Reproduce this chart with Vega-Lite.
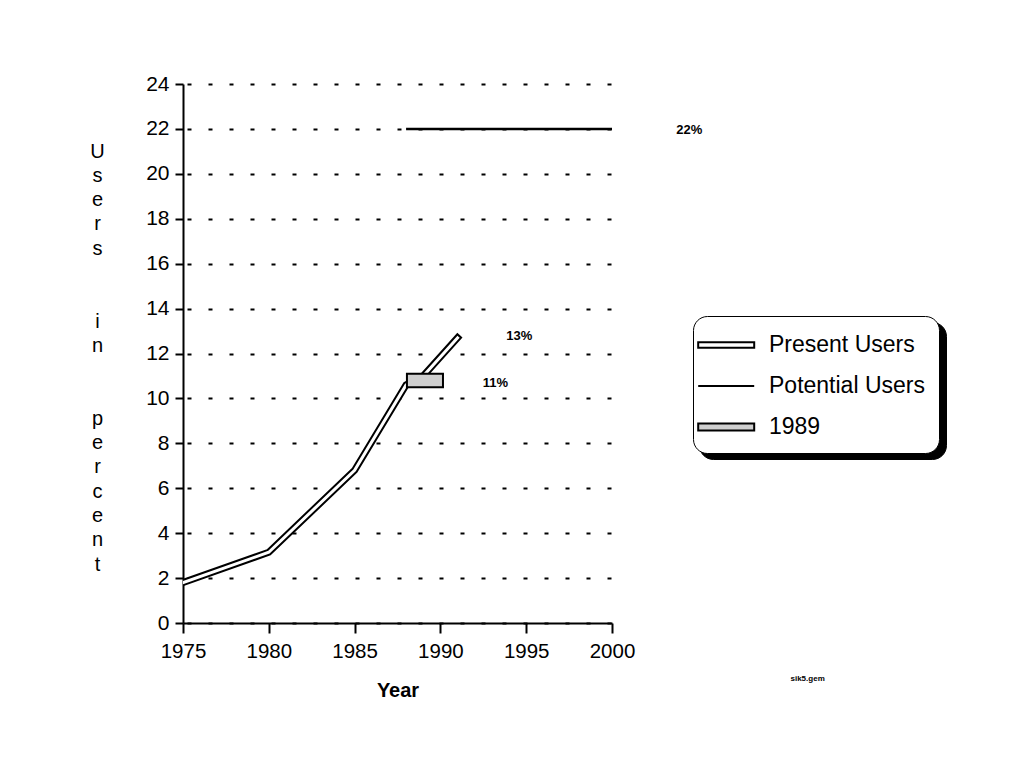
{
  "$schema": "https://vega.github.io/schema/vega-lite/v6.json",
  "width": 429,
  "height": 539,
  "autosize": {"type": "none"},
  "padding": {"left": 183, "top": 84, "right": 417, "bottom": 143},
  "background": "white",
  "config": {
    "view": {"stroke": null},
    "font": "Liberation Sans",
    "axis": {"labelColor": "black", "titleColor": "black", "domainColor": "black", "tickColor": "black", "labelFont": "Liberation Sans", "titleFont": "Liberation Sans"}
  },
  "datasets": {
    "present": [
      {"year": 1975, "pct": 1.8},
      {"year": 1980, "pct": 3.15},
      {"year": 1985, "pct": 6.8},
      {"year": 1988, "pct": 10.6},
      {"year": 1989, "pct": 11.0},
      {"year": 1991, "pct": 12.7}
    ],
    "potential": [
      {"year": 1988, "pct": 22},
      {"year": 2000, "pct": 22}
    ],
    "box": [
      {"year": 1988.05, "year_end": 1990.15, "pct": 10.5, "pct_end": 11.1}
    ],
    "labels": [
      {"year": 2004.5, "pct": 21.95, "label": "22%"},
      {"year": 1994.6, "pct": 12.8, "label": "13%"},
      {"year": 1993.2, "pct": 10.7, "label": "11%"}
    ],
    "file": [
      {"year": 2011.4, "pct": -2.5, "label": "sik5.gem"}
    ],
    "legend": [
      {"series": "Present Users"},
      {"series": "Potential Users"},
      {"series": "1989"}
    ],
    "shadow": [
      {"k": 0},
      {"k": 1}
    ]
  },
  "layer": [
    {
      "data": {"name": "present"},
      "mark": {"type": "line", "color": "black", "strokeWidth": 7, "strokeCap": "square", "clip": true},
      "encoding": {
        "x": {
          "field": "year", "type": "quantitative",
          "scale": {"domain": [1975, 2000], "nice": false, "zero": false},
          "axis": {
            "title": "Year", "values": [1975, 1980, 1985, 1990, 1995, 2000], "format": "d",
            "labelFontSize": 20.5, "labelFlush": false, "labelOverlap": false, "labelPadding": 8,
            "tickSize": 10, "tickWidth": 2, "domainWidth": 2, "grid": false,
            "titleFontSize": 20, "titleFontWeight": "bold", "titlePadding": 19
          }
        },
        "y": {
          "field": "pct", "type": "quantitative",
          "scale": {"domain": [0, 24], "nice": false, "zero": true},
          "axis": {
            "title": ["U", "s", "e", "r", "s", "\u2800", "\u2800", "i", "n", "\u2800", "\u2800", "p", "e", "r", "c", "e", "n", "t"],
            "titleAngle": 0, "titleX": -86, "titleY": 73, "titleAlign": "center", "titleBaseline": "alphabetic",
            "titleLineHeight": 24.3, "titleFontSize": 20, "titleFontWeight": "normal",
            "values": [0, 2, 4, 6, 8, 10, 12, 14, 16, 18, 20, 22, 24],
            "labelFontSize": 21, "labelPadding": 6, "labelOverlap": false, "labelFlush": false,
            "tickSize": 8, "tickWidth": 2, "domainWidth": 2,
            "grid": true, "gridColor": "black", "gridDash": [4, 17], "gridDashOffset": 17, "gridWidth": 2, "gridOpacity": 1
          }
        }
      }
    },
    {
      "data": {"name": "present"},
      "mark": {"type": "line", "color": "white", "strokeWidth": 3, "strokeCap": "square", "clip": true},
      "encoding": {
        "x": {"field": "year", "type": "quantitative"},
        "y": {"field": "pct", "type": "quantitative"}
      }
    },
    {
      "data": {"name": "box"},
      "mark": {"type": "rect", "fill": "#cfcfcf", "stroke": "black", "strokeWidth": 2},
      "encoding": {
        "x": {"field": "year", "type": "quantitative"},
        "x2": {"field": "year_end"},
        "y": {"field": "pct", "type": "quantitative"},
        "y2": {"field": "pct_end"}
      }
    },
    {
      "data": {"name": "potential"},
      "mark": {"type": "line", "color": "black", "strokeWidth": 2.5},
      "encoding": {
        "x": {"field": "year", "type": "quantitative"},
        "y": {"field": "pct", "type": "quantitative"}
      }
    },
    {
      "data": {"name": "labels"},
      "mark": {"type": "text", "fontSize": 13, "fontWeight": "bold", "font": "Liberation Sans", "color": "black"},
      "encoding": {
        "x": {"field": "year", "type": "quantitative"},
        "y": {"field": "pct", "type": "quantitative"},
        "text": {"field": "label"}
      }
    },
    {
      "data": {"name": "file"},
      "mark": {"type": "text", "fontSize": 8, "fontWeight": "bold", "font": "Liberation Sans", "color": "black"},
      "encoding": {
        "x": {"field": "year", "type": "quantitative"},
        "y": {"field": "pct", "type": "quantitative"},
        "text": {"field": "label"}
      }
    },
    {
      "data": {"name": "legend"},
      "mark": {"type": "point", "filled": true, "stroke": "black", "strokeWidth": 2, "opacity": 1},
      "encoding": {
        "x": {"field": "year", "type": "quantitative"},
        "y": {"field": "pct", "type": "quantitative"},
        "shape": {
          "field": "series", "type": "nominal",
          "scale": {"domain": ["Present Users", "Potential Users", "1989"], "range": ["M-1.7,-0.2H2.3V0.2H-1.7Z", "M-1.7,0H2.3", "M-1.7,-0.25H2.3V0.25H-1.7Z"]},
          "legend": {"title": null, "orient": "none", "legendX": 510, "legendY": 232, "labelFontSize": 23, "labelColor": "black", "labelFont": "Liberation Sans", "symbolSize": 784, "symbolStrokeWidth": 2, "labelOffset": 32, "rowPadding": 14, "padding": 14, "strokeColor": "black", "fillColor": "white", "cornerRadius": 14, "zindex": 2, "labelLimit": 0}
        },
        "fill": {
          "field": "series", "type": "nominal",
          "scale": {"domain": ["Present Users", "Potential Users", "1989"], "range": ["white", "black", "#cfcfcf"]},
          "legend": {"title": null, "orient": "none", "legendX": 510, "legendY": 232, "labelFontSize": 23, "labelColor": "black", "labelFont": "Liberation Sans", "symbolSize": 784, "symbolStrokeWidth": 2, "labelOffset": 32, "rowPadding": 14, "padding": 14, "strokeColor": "black", "fillColor": "white", "cornerRadius": 14, "zindex": 2, "labelLimit": 0}
        }
      }
    },
    {
      "data": {"name": "shadow"},
      "mark": {"type": "point", "strokeWidth": 2, "opacity": 1},
      "encoding": {
        "x": {"field": "year", "type": "quantitative"},
        "y": {"field": "pct", "type": "quantitative"},
        "stroke": {
          "field": "k", "type": "quantitative",
          "scale": {"domain": [0, 1], "range": ["black", "black"]},
          "legend": {"title": null, "orient": "none", "legendX": 516, "legendY": 238, "direction": "horizontal", "gradientLength": 219, "gradientThickness": 109, "gradientStrokeWidth": 0, "values": [], "labelColor": "black", "padding": 14, "strokeColor": "black", "fillColor": "black", "cornerRadius": 14, "zindex": 1}
        }
      }
    },
    {
      "data": {"name": "shadow"},
      "mark": {"type": "point", "strokeWidth": 2, "opacity": 1},
      "encoding": {
        "x": {"field": "year", "type": "quantitative"},
        "y": {"field": "pct", "type": "quantitative"},
        "color": {
          "field": "k", "type": "quantitative",
          "scale": {"domain": [0, 1], "range": ["black", "black"]},
          "legend": {"title": null, "orient": "none", "legendX": 509, "legendY": 231, "direction": "horizontal", "gradientLength": 221, "gradientThickness": 111, "gradientStrokeWidth": 0, "values": [], "labelColor": "black", "padding": 14, "strokeColor": "black", "fillColor": "black", "cornerRadius": 15, "zindex": 1}
        }
      }
    }
  ]
}
